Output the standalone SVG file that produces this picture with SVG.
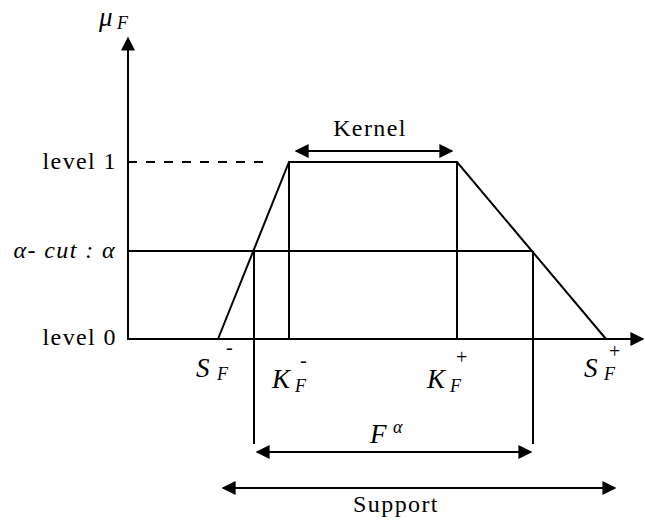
<svg xmlns="http://www.w3.org/2000/svg" width="645" height="521" viewBox="0 0 645 521">
<style>
.ln{stroke:#000;stroke-width:2;fill:none}
text{font-family:"Liberation Serif",serif;fill:#000}
.t{font-size:24px;letter-spacing:1.4px}
.i{font-style:italic}
.big{font-size:27px}
.sub{font-size:18px}
.sup{font-size:20px}
</style>
<defs>
<marker id="ah" viewBox="0 0 10 10" refX="9" refY="5" markerWidth="14" markerHeight="14" markerUnits="userSpaceOnUse" orient="auto-start-reverse">
<path d="M0,0 L10,5 L0,10 z" fill="#000"/>
</marker>
</defs>
<rect width="645" height="521" fill="#fff"/>
<g id="connectors">
<line class="ln" x1="128" y1="340" x2="128" y2="38" marker-end="url(#ah)"/>
<line class="ln" x1="127" y1="339" x2="643" y2="339" marker-end="url(#ah)"/>
<line class="ln" x1="128" y1="162" x2="266" y2="162" stroke-dasharray="9,9"/>
<polyline class="ln" points="218,339 289,162 457,162 606,339"/>
<line class="ln" x1="289" y1="162" x2="289" y2="339"/>
<line class="ln" x1="457" y1="162" x2="457" y2="339"/>
<line class="ln" x1="128" y1="251" x2="533" y2="251"/>
<line class="ln" x1="254" y1="251" x2="254" y2="444"/>
<line class="ln" x1="533" y1="251" x2="533" y2="444"/>
<line class="ln" x1="296" y1="151" x2="452" y2="151" marker-start="url(#ah)" marker-end="url(#ah)"/>
<line class="ln" x1="257" y1="452" x2="531" y2="452" marker-start="url(#ah)" marker-end="url(#ah)"/>
<line class="ln" x1="223" y1="488" x2="615" y2="488" marker-start="url(#ah)" marker-end="url(#ah)"/>
</g>
<g id="labels">
<text class="i big" x="99" y="26">μ</text>
<text class="i sub" x="117" y="29">F</text>
<text class="t" x="117" y="169" text-anchor="end">level 1</text>
<text class="t i" x="116" y="258" text-anchor="end">α- cut : α</text>
<text class="t" x="117" y="345" text-anchor="end">level 0</text>
<text class="t" x="370" y="136" text-anchor="middle">Kernel</text>
<text class="t" x="396" y="512" text-anchor="middle">Support</text>
<text class="i big" x="196" y="377">S</text>
<text class="i sub" x="217" y="380">F</text>
<text class="sup" x="226" y="354">-</text>
<text class="i big" x="272" y="388">K</text>
<text class="i sub" x="295" y="392">F</text>
<text class="sup" x="300" y="367">-</text>
<text class="i big" x="427" y="388">K</text>
<text class="i sub" x="450" y="392">F</text>
<text class="sup" x="456" y="364">+</text>
<text class="i big" x="584" y="377">S</text>
<text class="i sub" x="604" y="380">F</text>
<text class="sup" x="609" y="358">+</text>
<text class="i big" x="370" y="443">F</text>
<text class="i sub" x="393" y="433">α</text>
</g>
</svg>
